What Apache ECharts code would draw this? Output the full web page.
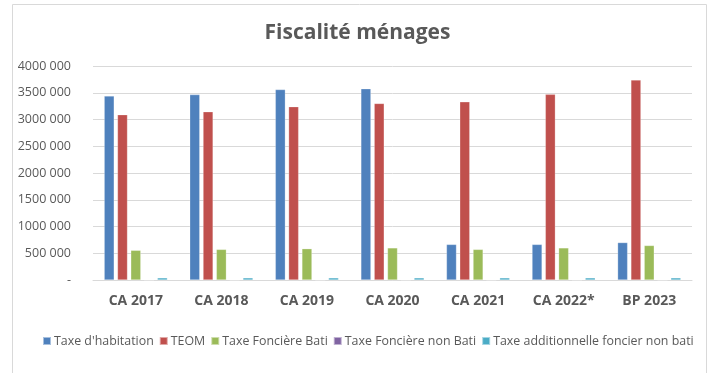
<!DOCTYPE html>
<html><head><meta charset="utf-8">
<script src="https://cdn.jsdelivr.net/npm/echarts@6/dist/echarts.min.js"></script>
<style>html,body{margin:0;padding:0;background:#fff}#c{width:715px;height:373px}</style>
</head><body><div id="c"></div>
<script>
var categories = ['CA 2017','CA 2018','CA 2019','CA 2020','CA 2021','CA 2022*','BP 2023'];
var seriesNames = ["Taxe d'habitation",'TEOM','Taxe Foncière Bati','Taxe Foncière non Bati','Taxe additionnelle foncier non bati'];
var taxeHabitation = [3440000,3465000,3560000,3575000,665000,665000,700000];
var teom = [3090000,3145000,3240000,3300000,3330000,3470000,3740000];
var fonciereBati = [555000,572000,585000,600000,572000,600000,645000];
var fonciereNonBati = [0,0,0,0,0,0,0];
var additionnelle = [40000,40000,40000,40000,40000,40000,40000];
var colors = ['#4F81BD','#C0504D','#9BBB59','#8064A2','#4BACC6'];
var values = [taxeHabitation, teom, fonciereBati, fonciereNonBati, additionnelle];

function fmt(v){
  if (v === 0) return '-';
  var s = String(v);
  return s.slice(0, s.length-3) + ' ' + s.slice(s.length-3);
}
var chart = echarts.init(document.getElementById('c'));
var font = "'Open Sans', sans-serif";
chart.setOption({
  animation: false,
  title: {text: 'Fiscalité ménages', left: 'center', top: 18,
    textStyle: {fontFamily: font, fontSize: 21, fontWeight: 'bold', color: '#595959'}},
  graphic: [{type: 'rect', shape: {x: 12.5, y: 4.5, width: 694, height: 400},
    style: {fill: 'none', stroke: '#D9D9D9', lineWidth: 1}}],
  grid: {left: 93, right: 23, top: 66, bottom: 93, containLabel: false},
  legend: {bottom: 21, left: 37, itemWidth: 8, itemHeight: 8, itemGap: 5,
    icon: 'rect', textStyle: {fontFamily: font, fontSize: 12.4, color: '#595959', padding: [0,0,0,-2]},
    data: seriesNames},
  xAxis: {type: 'category', data: categories,
    axisLine: {lineStyle: {color: '#D9D9D9', width: 1}}, axisTick: {show: false},
    axisLabel: {fontFamily: font, fontSize: 14, fontWeight: 'bold', color: '#595959', margin: 14}},
  yAxis: {type: 'value', min: 0, max: 4000000, interval: 500000,
    axisLine: {show: false}, axisTick: {show: false},
    splitLine: {lineStyle: {color: '#D9D9D9', width: 1}},
    axisLabel: {fontFamily: font, fontSize: 12.5, color: '#595959', margin: 22, formatter: fmt}},
  series: seriesNames.map(function(n, i){
    return {name: n, type: 'bar', data: values[i], barWidth: 10, barGap: '33%',
      itemStyle: {color: colors[i], borderColor: 'rgba(255,255,255,0.5)', borderWidth: 0.5}};
  })
});
</script></body></html>
